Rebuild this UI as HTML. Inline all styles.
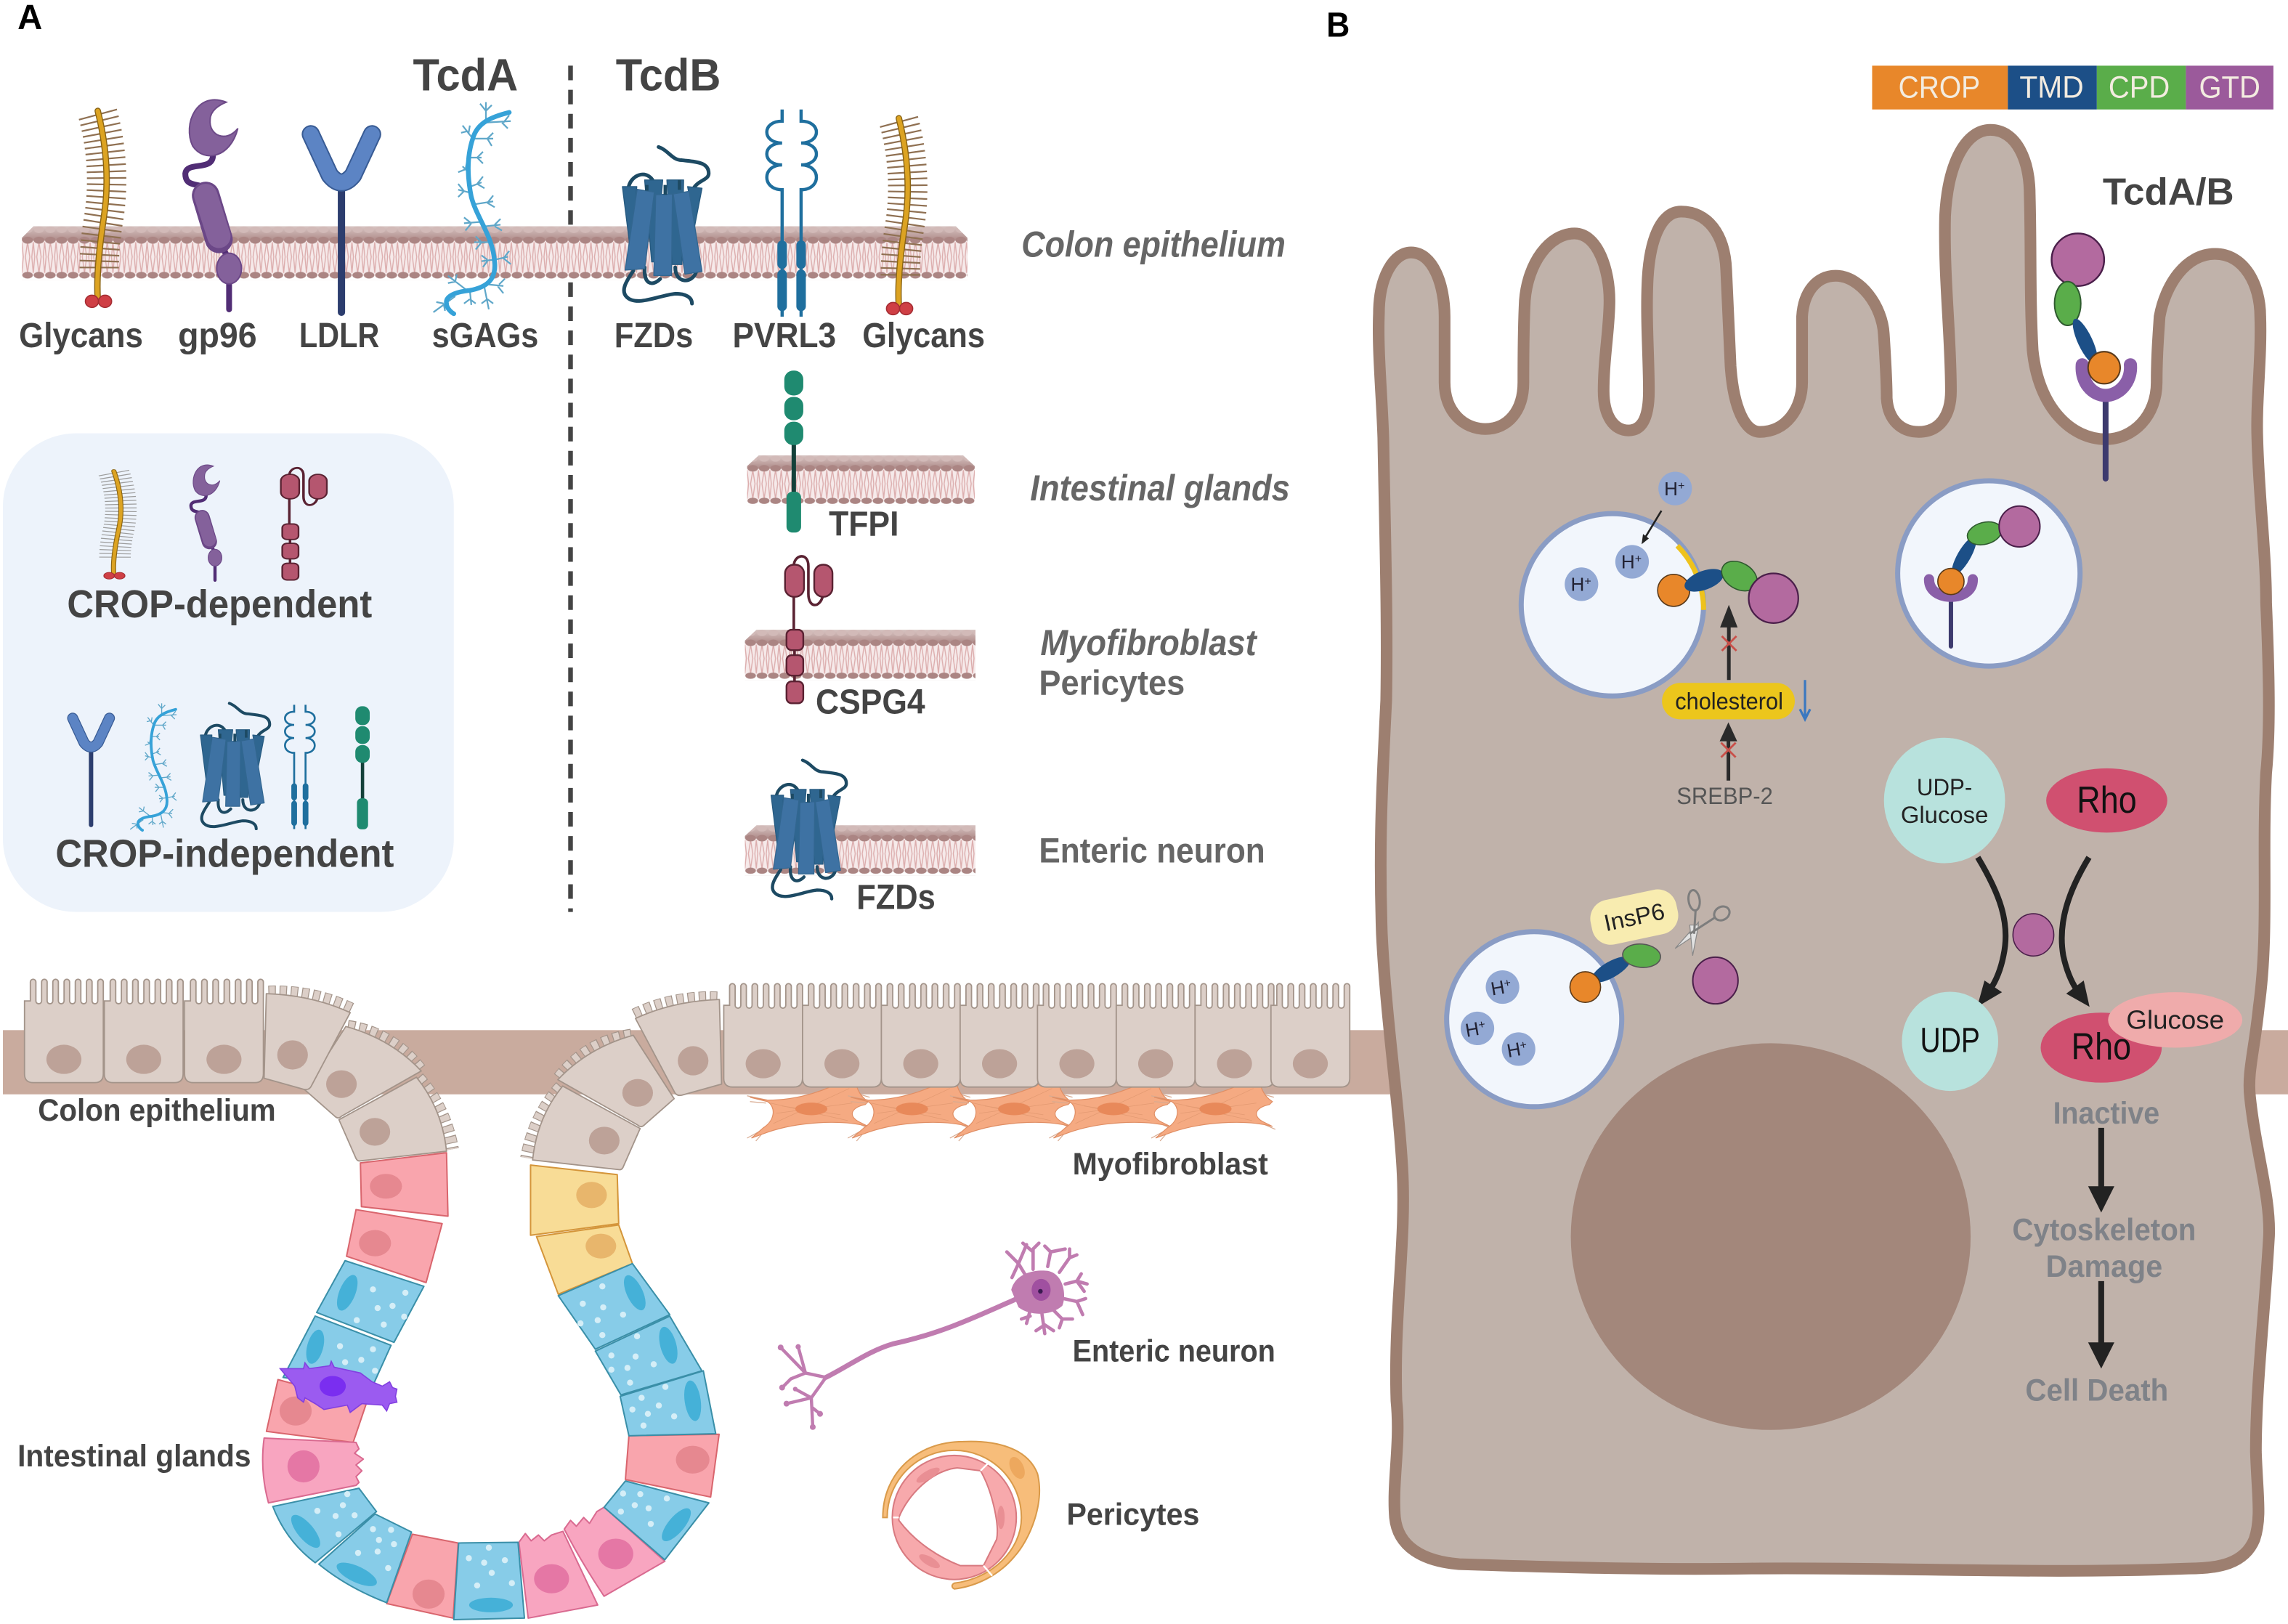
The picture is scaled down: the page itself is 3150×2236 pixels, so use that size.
<!DOCTYPE html>
<html><head><meta charset="utf-8"><title>TcdA TcdB receptors</title>
<style>
html,body{margin:0;padding:0;background:#fff;width:3150px;height:2236px;overflow:hidden}
svg{display:block}
text{font-family:"Liberation Sans",sans-serif}
.b{font-weight:bold;fill:#444}
.g{font-weight:bold;fill:#666}
.i{font-weight:bold;font-style:italic;fill:#666}
.h{font-size:13px;fill:#223;text-anchor:middle}
.k{fill:#7f8288;font-weight:bold}
</style></head><body>
<svg xmlns="http://www.w3.org/2000/svg" width="3150" height="2236" viewBox="0 0 1568 1113">
<defs>
<linearGradient id="bandg" x1="0" y1="0" x2="0" y2="1"><stop offset="0" stop-color="#d8c5c3"/><stop offset="1" stop-color="#ad8987"/></linearGradient>
<pattern id="mem" patternUnits="userSpaceOnUse" width="7.8" height="37">
<rect x="0" y="0" width="7.800" height="10" fill="url(#bandg)"/>
<rect x="0" y="10" width="7.800" height="24" fill="#f6eaea"/>
<path d="M3.900 11L2.400 21L3.900 32M3.900 11L5.400 21L3.900 32M0 11L1 21L0 32M7.800 11L6.800 21L7.800 32" stroke="#dcadad" stroke-width=".7" fill="none"/>
<ellipse cx="3.900" cy="2.400" rx="3.400" ry="2.300" fill="#d2bab8"/>
<ellipse cx="3.900" cy="9.600" rx="3.600" ry="2.400" fill="#ab8583"/>
<ellipse cx="3.900" cy="33.600" rx="3.600" ry="2.300" fill="#ab8583"/>
</pattern>
<g id="glycan" fill="none">
<path d="M67 78C73 100 75 125 71 150C69 162 68 173 68 184" stroke="var(--t,#8f7052)" stroke-width="27" stroke-dasharray="1.100 3.300"/>
<path d="M67 76C73 100 75 125 71 150C68 170 66 190 67 205" stroke="#8a6414" stroke-width="4.400" stroke-linecap="round"/>
<path d="M67 76C73 100 75 125 71 150C68 170 66 190 67 205" stroke="#dca322" stroke-width="3" stroke-linecap="round"/>
<ellipse cx="63" cy="206.500" rx="4.500" ry="4.200" fill="#cf3f45" stroke="#a52d33" stroke-width=".8"/>
<ellipse cx="72" cy="206.500" rx="4.500" ry="4.200" fill="#cf3f45" stroke="#a52d33" stroke-width=".8"/>
</g>
<g id="gp96">
<path d="M146 106C146 118 128 110 127 119C127 130 139 124 142 131M150 165L157 178M157 190V212" fill="none" stroke="#512d75" stroke-width="4" stroke-linecap="round"/>
<path d="M155 70C135 62 125 85 132 100C140 112 158 108 163 88C155 98 143 93 144 82C144 76 150 72 155 70Z" fill="#84619b" stroke="#6d4a88" stroke-width="1"/>
<path d="M141 134L150 164" stroke="#6b4787" stroke-width="19" stroke-linecap="round"/>
<path d="M141 134L150 162" stroke="#84619b" stroke-width="16" stroke-linecap="round"/>
<ellipse cx="157" cy="184" rx="8.500" ry="10.500" fill="#84619b" stroke="#6b4787" stroke-width="1"/>
</g>
<g id="ldlr" fill="none">
<path d="M234 128V214" stroke="#2c3d6e" stroke-width="5" stroke-linecap="round"/>
<path d="M213 92L226 120Q234 130 242 120L255 92" stroke="#385b94" stroke-width="12.500" stroke-linecap="round" stroke-linejoin="round"/>
<path d="M213 92L226 120Q234 130 242 120L255 92" stroke="#5c84c4" stroke-width="10.500" stroke-linecap="round" stroke-linejoin="round"/>
</g>
<g id="sgag" fill="none">
<path d="M333 84L333 70M333 76L329 71M333 76L337 72M333 84L350 83M345 84L349 79M344 84L348 88M324 95L317 86M320 90L316 91M321 92L322 86M325 95L338 95M334 95L338 91M334 95L337 100M322 108L330 108M327 108L331 104M327 108L331 112M321 118L317 114M319 116L314 118M319 116L320 111M322 128L330 125M327 126L331 121M327 126L332 129M322 132L314 130M318 131L314 126M318 131L314 135M325 140L338 138M334 139L338 134M334 139L339 142M330 152L318 153M323 153L318 149M323 153L319 158M333 155L343 154M339 154L343 150M339 155L344 158M336 166L325 166M330 166L326 162M330 166L326 171M339 178L348 176M345 177L349 172M345 177L350 181M338 178L330 179M334 178L330 175M334 179L331 183M335 195L345 196M342 195L346 191M341 196L345 201M320 199L307 189M312 193L307 194M312 193L313 188M322 199L323 209M322 205L318 208M322 205L326 208M332 197L335 212M334 205L330 208M334 205L338 208M312 203L297 214M304 208L299 207M304 208L305 213" stroke="#5fa7c9" stroke-width="1.100"/>
<path d="M349 77C337 80 327 84 324 95C319 110 321 125 323 135C327 150 338 162 339 180C340 192 333 197 322 199C312 200 305 203 306 208C306 211 309 214 311 215" stroke="#36a2d8" stroke-width="3.200" stroke-linecap="round"/>
</g>
<g id="fzd">
<g fill="none" stroke="#1d4a63" stroke-width="2.200" stroke-linecap="round">
<path d="M550 521C556 523 558 529 564 529C572 530 580 530 580 537C580 541 574 541 571 546"/>
<path d="M532 546C533 538 543 534 547 542"/>
<path d="M535 596C531 602 527 608 531 612C537 618 550 611 560 610C566 610 570 612 570 616"/>
<path d="M541.700 594C541 604 546 606 551 601"/>
<path d="M560 594C560 604 570 604 572.400 597"/>
</g>
<g fill="#2f6690" stroke="#265a80" stroke-width=".6" stroke-linejoin="round">
<path d="M528.400 545L537 545L534.300 579L532.600 579Z"/>
<path d="M567.400 545L576 546L571.600 569Z"/>
<path d="M541.700 541L552.500 541L548.300 590.700L545.900 590.700Z"/>
<path d="M555 541L565 541L564 592.300L558.300 592.300Z"/>
</g>
<g fill="#3e72a3" stroke="#326690" stroke-width=".6" stroke-linejoin="round">
<path d="M537.200 546.700L547.500 548.400L541.700 594.800L530 595.700Z"/>
<path d="M548.300 550L558.300 549.500L557.800 599L547.200 599Z"/>
<path d="M558.800 549.500L568.300 547.900L576 596.500L565.800 598.100Z"/>
</g>
<path d="M543 544V547.500M554 544V550M562.500 541V547" stroke="#1d4a63" stroke-width="2"/>
</g>
<g id="pvrl" fill="none" stroke="#1f6f9e">
<path d="M536 75V83C522 83 522 98 536 98C522 98 522 113 536 113C522 113 522 130 536 130V217" stroke-width="2.200"/>
<path d="M549 75V83C563 83 563 98 549 98C563 98 563 113 549 113C563 113 563 130 549 130V217" stroke-width="2.200"/>
<path d="M536 168V181M536 188V210M549 168V181M549 188V210" stroke-width="6.500" stroke-linecap="round"/>
</g>
<g id="tfpi">
<path d="M544 300V345" stroke="#14413a" stroke-width="3"/>
<rect x="537.500" y="254" width="13" height="17" rx="6" fill="#1f8a70"/>
<rect x="537.500" y="272" width="13" height="16" rx="6" fill="#1f8a70"/>
<rect x="537.500" y="289" width="13" height="16" rx="6" fill="#1f8a70"/>
<rect x="539" y="337" width="10" height="28" rx="4" fill="#1f8a70"/>
</g>
<g id="cspg">
<path d="M544 388C544 380 554 378 554 388V407C554 417 562 417 564 408M544 408V432" fill="none" stroke="#5a2232" stroke-width="1.800"/>
<path d="M544.500 445V449M544.500 463V467" stroke="#5a2232" stroke-width="1.800"/>
<rect x="538" y="387" width="13" height="22" rx="6" fill="#b5566f" stroke="#5a2232" stroke-width="1.200"/>
<rect x="558" y="387" width="12.500" height="22" rx="6" fill="#b5566f" stroke="#5a2232" stroke-width="1.200"/>
<rect x="539" y="431.600" width="11.500" height="14" rx="3.500" fill="#b5566f" stroke="#5a2232" stroke-width="1.200"/>
<rect x="539" y="449" width="11.500" height="14" rx="3.500" fill="#b5566f" stroke="#5a2232" stroke-width="1.200"/>
<rect x="539" y="467" width="11.500" height="15" rx="3.500" fill="#b5566f" stroke="#5a2232" stroke-width="1.200"/>
</g>
<g id="ecell">
<path d="M-27 -56V-6Q-27 0 -21 0H21Q27 0 27 -6V-56v-13a1.900 1.900 0 0 0 -3.800 0v13a1.950 1.950 0 0 1 -3.900 0v-13a1.900 1.900 0 0 0 -3.800 0v13a1.950 1.950 0 0 1 -3.900 0v-13a1.900 1.900 0 0 0 -3.800 0v13a1.950 1.950 0 0 1 -3.900 0v-13a1.900 1.900 0 0 0 -3.800 0v13a1.950 1.950 0 0 1 -3.900 0v-13a1.900 1.900 0 0 0 -3.800 0v13a1.950 1.950 0 0 1 -3.900 0v-13a1.900 1.900 0 0 0 -3.800 0v13a1.950 1.950 0 0 1 -3.900 0v-13a1.900 1.900 0 0 0 -3.800 0v13Z" fill="#dccfc8" stroke="#a3948a" stroke-width=".9"/>
<ellipse cx="0" cy="-16" rx="12" ry="10" fill="#bda298"/>
</g>
<g id="curve">
<g fill="none">
<path d="M238 705.500Q268 710 287 735" stroke="#a3948a" stroke-width="13" stroke-dasharray="5 2.500"/>
<path d="M238.600 705.800Q268 710 287 735" stroke="#dccfc8" stroke-width="12" stroke-dasharray="3.800 3.700"/>
<path d="M285 740Q303 760 308 788" stroke="#a3948a" stroke-width="13" stroke-dasharray="5 2.500"/>
<path d="M285.400 740.500Q303 760 308 788" stroke="#dccfc8" stroke-width="12" stroke-dasharray="3.800 3.700"/>
</g>
<path d="M285.400 738.300Q303 760 306 789L247 795.600Q245 796 244 794L232.300 767.400Z" fill="#dccfc8" stroke="#a3948a" stroke-width=".9" stroke-linejoin="round"/>
<path d="M237 703.500Q268 712 288.700 734L234 765Q232 767 230 765.500L209 747Z" fill="#dccfc8" stroke="#a3948a" stroke-width=".9" stroke-linejoin="round"/>
<ellipse cx="234" cy="743" rx="10.500" ry="9.500" fill="#bda298"/>
<ellipse cx="256.900" cy="775.700" rx="10.500" ry="9.500" fill="#bda298"/>
</g>
<g id="curve4">
<g fill="none">
<path d="M184 682Q215 681 241 694" stroke="#a3948a" stroke-width="13" stroke-dasharray="5 2.500"/>
<path d="M184.600 682Q215 681 241 694" stroke="#dccfc8" stroke-width="12" stroke-dasharray="3.800 3.700"/>
</g>
<path d="M182.500 681Q214 682 240 694L213.500 744Q212 747.500 208 746.500L181 739Z" fill="#dccfc8" stroke="#a3948a" stroke-width=".9" stroke-linejoin="round"/>
<ellipse cx="200.500" cy="723" rx="10.500" ry="10" fill="#bda298"/>
</g>
<g id="myo">
<path d="M-30 -6L-44 -9M-31 -4L-42 -5M-33 14L-44 20M-32 15L-38 22M31 -20L36 -14M33 -10L40 -8M32 10L41 14" stroke="#d8aa90" stroke-width=".6" fill="none"/>
<path d="M-42 -8L-30 -6C-10 -6 12 -12 31 -25C29 -16 33 -9 39 -5L37 -3C27 -1 25 5 33 9L39 12C20 7 -10 9 -30 16L-41 20L-33 13C-25 8 -24 -1 -30 -5Z" fill="#f5aa82" stroke="#e08e64" stroke-width=".6"/>
<path d="M-28 -4L25 8M-26 10L26 -14M-20 -2L20 4M-24 3L28 -4" stroke="#e39a72" stroke-width=".4" fill="none"/>
<ellipse cx="0" cy="0" rx="11" ry="4.300" fill="#e8895a"/>
</g>
</defs>

<text x="12" y="20" font-size="24" font-weight="bold" fill="#000" textLength="17" lengthAdjust="spacingAndGlyphs">A</text>
<text x="909" y="25" font-size="24" font-weight="bold" fill="#000" textLength="16" lengthAdjust="spacingAndGlyphs">B</text>
<text class="b" x="283" y="62" font-size="31" textLength="72" lengthAdjust="spacingAndGlyphs">TcdA</text>
<text class="b" x="422" y="62" font-size="31" textLength="72" lengthAdjust="spacingAndGlyphs">TcdB</text>
<line x1="391" y1="45" x2="391" y2="625" stroke="#444" stroke-width="3.200" stroke-dasharray="10 6.500"/>

<rect x="2" y="297" width="309" height="328" rx="50" fill="#edf3fb"/>

<polygon transform="translate(15,155)" points="0,8 8,0 640,0 648,8 648,37 0,37" fill="url(#mem)"/>
<polygon transform="translate(512,312) scale(1,.93)" points="0,8 8,0 148,0 156,8 156,37 0,37" fill="url(#mem)"/>
<polygon transform="translate(510.500,431.500) scale(1,.94)" points="0,8 8,0 158,0 158,37 0,37" fill="url(#mem)"/>
<polygon transform="translate(510.500,565.500) scale(1,.93)" points="0,8 8,0 158,0 158,37 0,37" fill="url(#mem)"/>

<use href="#glycan"/>
<use href="#gp96"/>
<use href="#ldlr"/>
<use href="#sgag"/>
<use href="#fzd" transform="translate(-179,-488) scale(1.146,1.13)"/>
<use href="#pvrl"/>
<use href="#glycan" transform="translate(549,5)"/>
<use href="#tfpi"/>
<use href="#cspg"/>
<use href="#fzd"/>

<text class="b" x="13" y="238" font-size="24" textLength="85" lengthAdjust="spacingAndGlyphs">Glycans</text>
<text class="b" x="122" y="238" font-size="24" textLength="54" lengthAdjust="spacingAndGlyphs">gp96</text>
<text class="b" x="205" y="238" font-size="24" textLength="55" lengthAdjust="spacingAndGlyphs">LDLR</text>
<text class="b" x="296" y="238" font-size="24" textLength="73" lengthAdjust="spacingAndGlyphs">sGAGs</text>
<text class="b" x="421" y="238" font-size="24" textLength="54" lengthAdjust="spacingAndGlyphs">FZDs</text>
<text class="b" x="502" y="238" font-size="24" textLength="71" lengthAdjust="spacingAndGlyphs">PVRL3</text>
<text class="b" x="591" y="238" font-size="24" textLength="84" lengthAdjust="spacingAndGlyphs">Glycans</text>
<text class="i" x="700" y="176" font-size="25" textLength="181" lengthAdjust="spacingAndGlyphs">Colon epithelium</text>
<text class="i" x="706" y="343" font-size="25" textLength="178" lengthAdjust="spacingAndGlyphs">Intestinal glands</text>
<text class="i" x="713" y="449" font-size="25" textLength="148" lengthAdjust="spacingAndGlyphs">Myofibroblast</text>
<text class="g" x="712" y="476" font-size="24" textLength="100" lengthAdjust="spacingAndGlyphs">Pericytes</text>
<text class="g" x="712" y="591" font-size="24" textLength="155" lengthAdjust="spacingAndGlyphs">Enteric neuron</text>
<text class="b" x="568" y="367" font-size="24" textLength="48" lengthAdjust="spacingAndGlyphs">TFPI</text>
<text class="b" x="559" y="489" font-size="24" textLength="75" lengthAdjust="spacingAndGlyphs">CSPG4</text>
<text class="b" x="587" y="623" font-size="24" textLength="54" lengthAdjust="spacingAndGlyphs">FZDs</text>

<use href="#glycan" transform="translate(24.400,281) scale(.8,.55)" style="--t:#9c9c9c"/>
<use href="#gp96" transform="translate(61,281) scale(.55)"/>
<use href="#cspg" transform="translate(-329.400,30.200) scale(.97,.762)"/>
<text class="b" x="46" y="423" font-size="27" textLength="209" lengthAdjust="spacingAndGlyphs">CROP-dependent</text>
<use href="#ldlr" transform="translate(-78,437) scale(.6)"/>
<use href="#sgag" transform="translate(-89,440) scale(.6)"/>
<use href="#fzd" transform="translate(-348.800,10.500) scale(.92,.905)"/>
<use href="#pvrl" transform="translate(-120,438) scale(.6)"/>
<use href="#tfpi" transform="translate(-165,291) scale(.76)"/>
<text class="b" x="38" y="594" font-size="27" textLength="232" lengthAdjust="spacingAndGlyphs">CROP-independent</text>

<rect x="2" y="706" width="960" height="44" fill="#c9ab9e"/>
<rect x="1540" y="706" width="28" height="44" fill="#c9ab9e"/>

<use href="#myo" transform="translate(556,760)"/>
<use href="#myo" transform="translate(625,760)"/>
<use href="#myo" transform="translate(695,760)"/>
<use href="#myo" transform="translate(763,760)"/>
<use href="#myo" transform="translate(833,760)"/>

<use href="#ecell" transform="translate(43.800,742)"/>
<use href="#ecell" transform="translate(98.500,742)"/>
<use href="#ecell" transform="translate(153.500,742)"/>
<use href="#curve"/>
<use href="#curve4"/>
<use href="#curve" transform="translate(671,6) scale(-1,1)"/>
<use href="#curve4" transform="translate(675.500,4) scale(-1,1)"/>
<use href="#ecell" transform="translate(523,745)"/>
<use href="#ecell" transform="translate(577,745)"/>
<use href="#ecell" transform="translate(631,745)"/>
<use href="#ecell" transform="translate(685,745)"/>
<use href="#ecell" transform="translate(738,745)"/>
<use href="#ecell" transform="translate(792,745)"/>
<use href="#ecell" transform="translate(846,745)"/>
<use href="#ecell" transform="translate(898,745)"/>

<g stroke-width="1" stroke-linejoin="round">
<g fill="#f9a5ad" stroke="#d9656d">
<path d="M247 797L306 790L307 833.500L247.700 827Z"/>
<path d="M244 829L303 838.600L292 879L237.500 861Z"/>
<path d="M190.500 945.500L251 962L242 988.600L182.600 981Z"/>
<path d="M282.600 1051.500L314 1057.500L310.500 1109L265 1099Z"/>
<path d="M431 984L492.800 983L487 1026L428.600 1014Z"/>
</g>
<g fill="#f8dc96" stroke="#d4953a">
<path d="M363.600 798.500L423 805L424 838.600L363.600 846.600Z"/>
<path d="M367.700 847.500L424 839.500L433.400 866L382.600 887Z"/>
</g>
<g fill="#f8a5c0" stroke="#d96a90">
<path d="M181 985.600L244 988.600L246 993L243 996L249 1000L244 1004L248 1008L244 1012L246 1016L244 1018L184 1030Q178 1008 181 985.600Z"/>
<path d="M355.600 1057L360 1051L364 1056L369 1052L373 1056L378 1052L385.800 1049.500L409.600 1100L362 1109Z"/>
<path d="M386.700 1048L391 1042L395 1046L400 1040L404 1044L409 1036L414 1033L455.600 1070L414 1094Q398 1070 386.700 1048Z"/>
</g>
<g fill="#87cce8" stroke="#3a8fa8">
<path d="M236.500 864L290.500 881.600L270 920L217 899.500Z"/>
<path d="M216 902L268 922L254 953L194 944Z"/>
<path d="M187 1032.500L246 1020L258 1036L216 1071Q196 1056 187 1032.500Z"/>
<path d="M218.500 1072L257 1037.600L282 1050L265 1098.400Q238 1088 218.500 1072Z"/>
<path d="M314.300 1057.500L355 1057L359.400 1109L311 1110Z"/>
<path d="M414 1033L428.600 1015L485.800 1030L455.600 1069Z"/>
<path d="M425 957L482 939.500L490.500 982.600L431 984Z"/>
<path d="M408 926L459 902L481 939.500L425.500 956Z"/>
<path d="M382.600 888L433.400 866L459 901L408 924.700Z"/>
</g>
</g>
<g fill="#e68890">
<ellipse cx="264.500" cy="813" rx="11" ry="8.500"/>
<ellipse cx="257" cy="852" rx="11" ry="9"/>
<ellipse cx="202.600" cy="967" rx="11" ry="10"/>
<ellipse cx="293.700" cy="1092.500" rx="11" ry="10"/>
<ellipse cx="474.700" cy="1000.400" rx="11.500" ry="9.500"/>
</g>
<g fill="#e8b66c">
<ellipse cx="405.400" cy="819" rx="10.500" ry="9"/>
<ellipse cx="411.800" cy="854" rx="10.500" ry="8.500"/>
</g>
<g fill="#e577a5">
<ellipse cx="208" cy="1005" rx="11" ry="11"/>
<ellipse cx="378" cy="1082" rx="12" ry="10"/>
<ellipse cx="422" cy="1065" rx="12" ry="10.500"/>
</g>
<g fill="#45b1d8">
<ellipse cx="238" cy="886" rx="5.500" ry="13" transform="rotate(22 238 886)"/>
<ellipse cx="216" cy="923" rx="5.500" ry="12" transform="rotate(15 216 923)"/>
<ellipse cx="209.500" cy="1049.500" rx="5.500" ry="14" transform="rotate(-40 209.500 1049.500)"/>
<ellipse cx="244.500" cy="1079" rx="5.500" ry="15" transform="rotate(-65 244.500 1079)"/>
<ellipse cx="336.500" cy="1100" rx="15" ry="5"/>
<ellipse cx="463.500" cy="1045" rx="5.500" ry="14" transform="rotate(40 463.500 1045)"/>
<ellipse cx="474.700" cy="960" rx="5.500" ry="14" transform="rotate(-8 474.700 960)"/>
<ellipse cx="458" cy="922" rx="5.500" ry="13" transform="rotate(-15 458 922)"/>
<ellipse cx="435" cy="886" rx="5.500" ry="13" transform="rotate(-25 435 886)"/>
</g>
<g fill="#d5eef7">
<circle cx="255.600" cy="883.700" r="2.100"/><circle cx="277.800" cy="886" r="2.100"/><circle cx="258.800" cy="896.500" r="2.100"/><circle cx="269" cy="895" r="2.100"/><circle cx="277" cy="902.400" r="2.100"/><circle cx="244.500" cy="904.800" r="2.100"/><circle cx="263" cy="907.800" r="2.100"/>
<circle cx="233" cy="922.600" r="2.100"/><circle cx="255.600" cy="924.700" r="2.100"/><circle cx="247.600" cy="932" r="2.100"/><circle cx="236.500" cy="933.600" r="2.100"/><circle cx="257" cy="939.500" r="2.100"/>
<circle cx="217.500" cy="1035.500" r="2.100"/><circle cx="235" cy="1031.600" r="2.100"/><circle cx="230" cy="1039" r="2.100"/><circle cx="243" cy="1038.500" r="2.100"/><circle cx="232" cy="1051.500" r="2.100"/><circle cx="238" cy="1024" r="2.100"/>
<circle cx="255.600" cy="1048" r="2.100"/><circle cx="268" cy="1048.500" r="2.100"/><circle cx="259.700" cy="1055.400" r="2.100"/><circle cx="270" cy="1058.300" r="2.100"/><circle cx="258.800" cy="1063.400" r="2.100"/><circle cx="245.400" cy="1064.300" r="2.100"/><circle cx="266" cy="1074.700" r="2.100"/>
<circle cx="335" cy="1060.700" r="2.100"/><circle cx="321.300" cy="1067.900" r="2.100"/><circle cx="346" cy="1069.300" r="2.100"/><circle cx="331.800" cy="1071" r="2.100"/><circle cx="337" cy="1078" r="2.100"/><circle cx="327" cy="1086.600" r="2.100"/><circle cx="350.800" cy="1085" r="2.100"/>
<circle cx="427" cy="1023.600" r="2.100"/><circle cx="438.800" cy="1024" r="2.100"/><circle cx="457" cy="1027" r="2.100"/><circle cx="435" cy="1031.600" r="2.100"/><circle cx="444.500" cy="1033.700" r="2.100"/><circle cx="425.500" cy="1036" r="2.100"/><circle cx="446" cy="1044.400" r="2.100"/>
<circle cx="456" cy="950.500" r="2.100"/><circle cx="439.700" cy="958" r="2.100"/><circle cx="451.500" cy="963.300" r="2.100"/><circle cx="444" cy="969" r="2.100"/><circle cx="433.400" cy="966" r="2.100"/><circle cx="462" cy="970.700" r="2.100"/><circle cx="441" cy="977" r="2.100"/>
<circle cx="436.600" cy="915.800" r="2.100"/><circle cx="419" cy="929" r="2.100"/><circle cx="435.600" cy="929.700" r="2.100"/><circle cx="448" cy="935" r="2.100"/><circle cx="430" cy="937.500" r="2.100"/><circle cx="419" cy="938.700" r="2.100"/><circle cx="431.800" cy="947.600" r="2.100"/>
<circle cx="412.800" cy="881.600" r="2.100"/><circle cx="399.400" cy="893.500" r="2.100"/><circle cx="413.400" cy="896" r="2.100"/><circle cx="427" cy="901" r="2.100"/><circle cx="409.600" cy="904.800" r="2.100"/><circle cx="397.800" cy="907" r="2.100"/><circle cx="412.800" cy="915" r="2.100"/>
</g>
<path d="M192 938L208 938L209 934L212 938L226 936L227 933L229 937L247 941L255 947L262 950L267 947L269 951L272 952L271 957L272 961L267 962L265 967L262 963L248 962L240 968L238 963L222 966L216 962L209 958L208 961L204 958L202 950Z" fill="#9b5bf0" stroke="#8240e0" stroke-width=".8"/>
<ellipse cx="228" cy="950" rx="9" ry="7" fill="#7a2ef0"/>

<text class="b" x="26" y="768" font-size="21" textLength="163" lengthAdjust="spacingAndGlyphs">Colon epithelium</text>
<text class="b" x="12" y="1005" font-size="21" textLength="160" lengthAdjust="spacingAndGlyphs">Intestinal glands</text>
<text class="b" x="735" y="805" font-size="21" textLength="134" lengthAdjust="spacingAndGlyphs">Myofibroblast</text>
<text class="b" x="735" y="933" font-size="21" textLength="139" lengthAdjust="spacingAndGlyphs">Enteric neuron</text>
<text class="b" x="731" y="1045" font-size="21" textLength="91" lengthAdjust="spacingAndGlyphs">Pericytes</text>

<g fill="none" stroke="#c07cb0" stroke-linecap="round" stroke-linejoin="round">
<path d="M697 890C670 902 645 914 612 921C595 926 582 936 566 944" stroke-width="3.400"/>
<path d="M566 944L552 941L535 923.500M552 941L547 923M566 944L556 958L545 952M556 958L539 962M556 958L557 978M557 965L562 969M552 941L542 945L536 951" stroke-width="2.200"/>
<path d="M704 876L698 866L693.500 875.600M698 866L690 858M698 866L703.500 853M708 870L708 856L712 852M708 858L701 852M718 868L720 858L730 856M720 858L716 854M726 872L733 862L738 860M733 862L733 856M730 880L738 878L745 880M738 878L741 873M738 878L743 885M729 890L738 892L742 901M738 892L744 890M722 898L728 904L735 904M728 904L726 910M714 900L716 914M716 908L710 912M716 908L722 912M706 898L703.500 907M706 902L700 904" stroke-width="2.300"/>
</g>
<path d="M693 884C696 872 710 870 718 871C729 873 731 888 728 895C720 902 706 902 698 896Z" fill="#c07cb0"/>
<ellipse cx="713.500" cy="884" rx="6.500" ry="7.500" fill="#a050a0"/>
<circle cx="713" cy="885" r="1.600" fill="#3a1a50"/>
<g fill="#c07cb0"><circle cx="535" cy="923.500" r="2"/><circle cx="547" cy="923" r="1.800"/><circle cx="536" cy="951" r="2"/><circle cx="545" cy="952" r="1.600"/><circle cx="539" cy="962" r="2"/><circle cx="557" cy="978" r="2"/><circle cx="562" cy="969" r="2"/></g>

<path d="M605 1040C605 1010 628 988 660 988C682 987 704 992 711 1010C716 1030 706 1055 695 1067C685 1079 670 1087 654 1089C652 1088 652 1086 654 1085C680 1082 700 1062 700 1040A46 46 0 0 0 608 1040Z" fill="#f7bd7a" stroke="#d99a4a" stroke-width="1"/>
<ellipse cx="697" cy="1006" rx="4.500" ry="8" transform="rotate(-25 697 1006)" fill="#eda85e"/>
<circle cx="654" cy="1040" r="42.500" fill="#f7a9ac" stroke="#d87a80" stroke-width="1"/>
<path d="M616 1040C622 1025 638 1008 656 1006L672 1008C680 1022 685 1045 683 1055L674 1073L658 1073C645 1068 628 1058 616 1042Z" fill="#fff" stroke="#d87a80" stroke-width="1"/>
<path d="M612 1040L616 1040M672 1008L678 1002M674 1073L680 1080" stroke="#fff" stroke-width="1.200"/>
<ellipse cx="636" cy="1011" rx="9" ry="3" transform="rotate(-30 636 1011)" fill="#e98f94"/>
<ellipse cx="686" cy="1040" rx="2.500" ry="8" fill="#e98f94"/>
<ellipse cx="637" cy="1070" rx="8" ry="3" transform="rotate(30 637 1070)" fill="#e98f94"/>

<path d="M948 300C947 270 944 240 945 215C945 190 955 173 967 173C982 173 990 195 990 217L990 262C990 282 1003 294 1018 294C1033 294 1044 282 1044 262C1044 245 1044 225 1045 206C1047 180 1062 160 1079 160C1095 160 1103 185 1103 206C1103 225 1099 245 1099 268C1099 285 1106 295 1116 295C1126 295 1130 285 1130 268C1130 245 1128 220 1129 195C1130 165 1138 145 1152 145C1170 145 1182 160 1183 185C1184 205 1185 225 1186 251C1188 280 1196 296 1206 296C1224 296 1235 280 1235 262L1235 217C1236 200 1245 189 1258 189C1275 189 1290 210 1291 229C1292 245 1293 260 1293 273C1294 288 1303 296 1315 296C1329 296 1337 285 1337 268C1337 230 1332 190 1333 148C1335 110 1348 89 1364 89C1382 89 1391 110 1391 134C1392 170 1391 205 1393 240C1397 280 1420 301 1443 301C1462 301 1478 285 1478 262C1478 245 1479 232 1480 217C1484 195 1498 174 1518 174C1538 174 1549 195 1549 217C1550 245 1546 275 1547 301C1548 340 1553 380 1553 413C1555 460 1556 500 1553 530C1550 590 1555 640 1548 690C1545 720 1540 735 1542 752C1546 790 1556 820 1555 847C1552 900 1546 950 1546 995C1547 1025 1550 1040 1545 1055C1538 1072 1520 1075 1500 1075C1400 1079 1300 1074 1200 1075C1130 1076 1060 1074 1000 1072C975 1070 958 1060 956 1040C954 1015 960 990 957 960C955 900 964 850 961 800C958 750 950 700 947 640C945 580 947 540 950 480C951 420 949 360 948 300Z" fill="#c0b2aa" stroke="#9d7f70" stroke-width="8" stroke-linejoin="round"/>
<ellipse cx="1213.500" cy="847.500" rx="137" ry="132.500" fill="#a3877b"/>

<rect x="1283" y="45" width="93" height="30" fill="#e8872a"/>
<rect x="1376" y="45" width="61" height="30" fill="#1c4f87"/>
<rect x="1437" y="45" width="61" height="30" fill="#5aad4a"/>
<rect x="1498" y="45" width="60" height="30" fill="#9b5a9b"/>
<g font-size="21" fill="#f3ece0">
<text x="1301" y="67" textLength="56" lengthAdjust="spacingAndGlyphs">CROP</text>
<text x="1384" y="67" textLength="44" lengthAdjust="spacingAndGlyphs">TMD</text>
<text x="1445" y="67" textLength="42" lengthAdjust="spacingAndGlyphs">CPD</text>
<text x="1507" y="67" textLength="42" lengthAdjust="spacingAndGlyphs">GTD</text>
</g>
<text class="b" x="1441" y="140" font-size="26" textLength="90" lengthAdjust="spacingAndGlyphs">TcdA/B</text>

<path d="M1443 275V328" stroke="#3d3a6e" stroke-width="4" stroke-linecap="round"/>
<path d="M1427 250C1426 262 1434 271 1443 271C1452 271 1461 262 1460 250" fill="none" stroke="#8a5fa8" stroke-width="9" stroke-linecap="round"/>
<circle cx="1424" cy="178" r="18" fill="#b36a9f" stroke="#4a1f4a" stroke-width="1.200"/>
<ellipse cx="1417" cy="208" rx="9" ry="15" fill="#5aad4a" stroke="#2f5a2f" stroke-width="1"/>
<ellipse cx="1429" cy="234" rx="5" ry="17" transform="rotate(-25 1429 234)" fill="#1c4f87"/>
<circle cx="1442" cy="252" r="11" fill="#e8872a" stroke="#5a3a1a" stroke-width="1"/>

<circle cx="1105" cy="414.500" r="62.500" fill="#f2f6fc" stroke="#8a9cc4" stroke-width="3.500"/>
<path d="M1149.500 374A62.500 62.500 0 0 1 1167.500 418" fill="none" stroke="#eec21c" stroke-width="3.500"/>
<circle cx="1148" cy="334.800" r="11.500" fill="#93a9d4"/>
<circle cx="1118.500" cy="385" r="11.500" fill="#93a9d4"/>
<circle cx="1083.800" cy="400.400" r="11.500" fill="#93a9d4"/>
<text class="h" x="1147.500" y="339.500">H<tspan font-size="8" dy="-4">+</tspan></text>
<text class="h" x="1118" y="389.500">H<tspan font-size="8" dy="-4">+</tspan></text>
<text class="h" x="1083.500" y="405">H<tspan font-size="8" dy="-4">+</tspan></text>
<path d="M1138.600 350L1126.500 370" stroke="#222" stroke-width="1.300"/>
<path d="M1125 373L1126 366L1130 369Z" fill="#222"/>
<circle cx="1147" cy="404.600" r="11" fill="#e8872a" stroke="#5a3a1a" stroke-width=".8"/>
<ellipse cx="1167.800" cy="397.700" rx="14" ry="6.500" transform="rotate(-20 1167.800 397.700)" fill="#1c4f87"/>
<ellipse cx="1192" cy="394.800" rx="13" ry="9" transform="rotate(30 1192 394.800)" fill="#5aad4a" stroke="#2f5a2f" stroke-width=".8"/>
<circle cx="1215.400" cy="410" r="17" fill="#b36a9f" stroke="#4a1f4a" stroke-width="1.100"/>
<path d="M1184.800 466V428" stroke="#2a2a2a" stroke-width="2.500"/>
<path d="M1178.800 430L1190.800 430L1184.800 414.500Z" fill="#2a2a2a"/>
<path d="M1180 436L1190 446M1190 436L1180 446" stroke="#c9504a" stroke-width="1.400"/>
<rect x="1139" y="468" width="91" height="25" rx="12.500" fill="#ecc61c"/>
<text x="1148" y="486" font-size="16" fill="#222" textLength="74" lengthAdjust="spacingAndGlyphs">cholesterol</text>
<path d="M1237 466V491M1233.500 486L1237 493L1240.500 486" fill="none" stroke="#3a78c0" stroke-width="1.600"/>
<path d="M1184.500 535V505" stroke="#2a2a2a" stroke-width="2.500"/>
<path d="M1178.500 508L1190.500 508L1184.500 495Z" fill="#2a2a2a"/>
<path d="M1179.500 509L1189.500 519M1189.500 509L1179.500 519" stroke="#c9504a" stroke-width="1.400"/>
<text x="1149" y="551" font-size="16" fill="#555" textLength="66" lengthAdjust="spacingAndGlyphs">SREBP-2</text>

<ellipse cx="1363" cy="393" rx="62.500" ry="63.500" fill="#f2f6fc" stroke="#8a9cc4" stroke-width="3.500"/>
<path d="M1337 408V443" stroke="#3d3a6e" stroke-width="3" stroke-linecap="round"/>
<path d="M1322 397C1322 405 1329 409 1337 409C1345 409 1352 405 1352 397" fill="none" stroke="#8a5fa8" stroke-width="7" stroke-linecap="round"/>
<ellipse cx="1346" cy="381" rx="4.500" ry="15" transform="rotate(30 1346 381)" fill="#1c4f87"/>
<circle cx="1337" cy="398.500" r="9" fill="#e8872a" stroke="#5a3a1a" stroke-width=".8"/>
<ellipse cx="1360" cy="365.500" rx="12" ry="7.500" transform="rotate(-15 1360 365.500)" fill="#5aad4a" stroke="#2f5a2f" stroke-width=".8"/>
<circle cx="1384" cy="360.800" r="14" fill="#b36a9f" stroke="#4a1f4a" stroke-width="1"/>

<circle cx="1051.400" cy="698.500" r="60" fill="#f2f6fc" stroke="#8a9cc4" stroke-width="3.500"/>
<circle cx="1029.700" cy="676.500" r="11.500" fill="#93a9d4"/>
<circle cx="1012.500" cy="704.800" r="11.500" fill="#93a9d4"/>
<circle cx="1040.700" cy="719" r="11.500" fill="#93a9d4"/>
<text class="h" x="1029.500" y="681" transform="rotate(-10 1029.500 681)">H<tspan font-size="8" dy="-4">+</tspan></text>
<text class="h" x="1012" y="709.500" transform="rotate(-10 1012 709.500)">H<tspan font-size="8" dy="-4">+</tspan></text>
<text class="h" x="1040.500" y="723.500" transform="rotate(-10 1040.500 723.500)">H<tspan font-size="8" dy="-4">+</tspan></text>
<ellipse cx="1104" cy="664.500" rx="15" ry="5.500" transform="rotate(-30 1104 664.500)" fill="#1c4f87"/>
<circle cx="1086.400" cy="676.500" r="10.500" fill="#e8872a" stroke="#5a3a1a" stroke-width=".8"/>
<ellipse cx="1125" cy="655" rx="13" ry="8" transform="rotate(5 1125 655)" fill="#5aad4a" stroke="#555" stroke-width=".8"/>
<ellipse cx="1175.600" cy="672" rx="15.500" ry="16" fill="#b36a9f" stroke="#4a1f4a" stroke-width="1"/>
<g transform="rotate(-12 1120 628.600)">
<rect x="1090" y="613" width="60" height="31" rx="13" fill="#f8ecb0"/>
<text x="1120" y="634" font-size="16" fill="#222" text-anchor="middle" textLength="42" lengthAdjust="spacingAndGlyphs">InsP6</text>
</g>
<path d="M1164 632L1148 650L1163 640Z" fill="#e2e2e2" stroke="#888" stroke-width=".6"/>
<path d="M1158 634L1160 655L1164 634Z" fill="#e2e2e2" stroke="#888" stroke-width=".6"/>
<g fill="none" stroke="#7d7d7d" stroke-width="1.500">
<ellipse cx="1161" cy="617" rx="3.800" ry="7" transform="rotate(-8 1161 617)"/>
<ellipse cx="1180" cy="626" rx="5.500" ry="4.500" transform="rotate(-30 1180 626)"/>
<path d="M1162 624L1161 640M1175 629L1158 640"/>
</g>

<ellipse cx="1332.600" cy="548.600" rx="41.500" ry="43" fill="#b8e2dd"/>
<text x="1332.600" y="545" font-size="16" fill="#222" text-anchor="middle" textLength="38" lengthAdjust="spacingAndGlyphs">UDP-</text>
<text x="1332.600" y="564" font-size="16" fill="#222" text-anchor="middle" textLength="60" lengthAdjust="spacingAndGlyphs">Glucose</text>
<ellipse cx="1443.800" cy="548.600" rx="41.500" ry="22" fill="#d05070"/>
<text x="1443.800" y="557" font-size="26" fill="#111" text-anchor="middle" textLength="41" lengthAdjust="spacingAndGlyphs">Rho</text>
<path d="M1355.400 587.600C1370 612 1378 632 1373 655C1371 665 1368 672 1364 678" fill="none" stroke="#222" stroke-width="4"/>
<path d="M1355 690L1360 672L1372 680Z" fill="#222"/>
<path d="M1431.600 587.600C1418 610 1410 632 1414 655C1416 664 1419 672 1423 678" fill="none" stroke="#222" stroke-width="4"/>
<path d="M1432 690L1416 681L1428 672Z" fill="#222"/>
<ellipse cx="1393.500" cy="640.700" rx="14" ry="14.500" fill="#b36a9f" stroke="#4a1f4a" stroke-width=".8"/>
<ellipse cx="1336.400" cy="713.700" rx="33" ry="34" fill="#b8e2dd"/>
<text x="1336.400" y="721" font-size="24" fill="#111" text-anchor="middle" textLength="41" lengthAdjust="spacingAndGlyphs">UDP</text>
<ellipse cx="1440" cy="718" rx="41.500" ry="24" fill="#d05070"/>
<text x="1440" y="726" font-size="26" fill="#111" text-anchor="middle" textLength="41" lengthAdjust="spacingAndGlyphs">Rho</text>
<ellipse cx="1490.700" cy="699" rx="46" ry="19" fill="#efabab"/>
<text x="1490.700" y="705" font-size="18" fill="#222" text-anchor="middle" textLength="67" lengthAdjust="spacingAndGlyphs">Glucose</text>
<text class="k" x="1407" y="770" font-size="21" textLength="73" lengthAdjust="spacingAndGlyphs">Inactive</text>
<path d="M1440 773V815" stroke="#222" stroke-width="4"/>
<path d="M1431 813H1449L1440 831Z" fill="#222"/>
<text class="k" x="1379" y="850" font-size="21" textLength="126" lengthAdjust="spacingAndGlyphs">Cytoskeleton</text>
<text class="k" x="1402" y="875" font-size="21" textLength="80" lengthAdjust="spacingAndGlyphs">Damage</text>
<path d="M1440 878V922" stroke="#222" stroke-width="4"/>
<path d="M1431 920H1449L1440 938Z" fill="#222"/>
<text class="k" x="1388" y="960" font-size="21" textLength="98" lengthAdjust="spacingAndGlyphs">Cell Death</text>
</svg>
</body></html>
